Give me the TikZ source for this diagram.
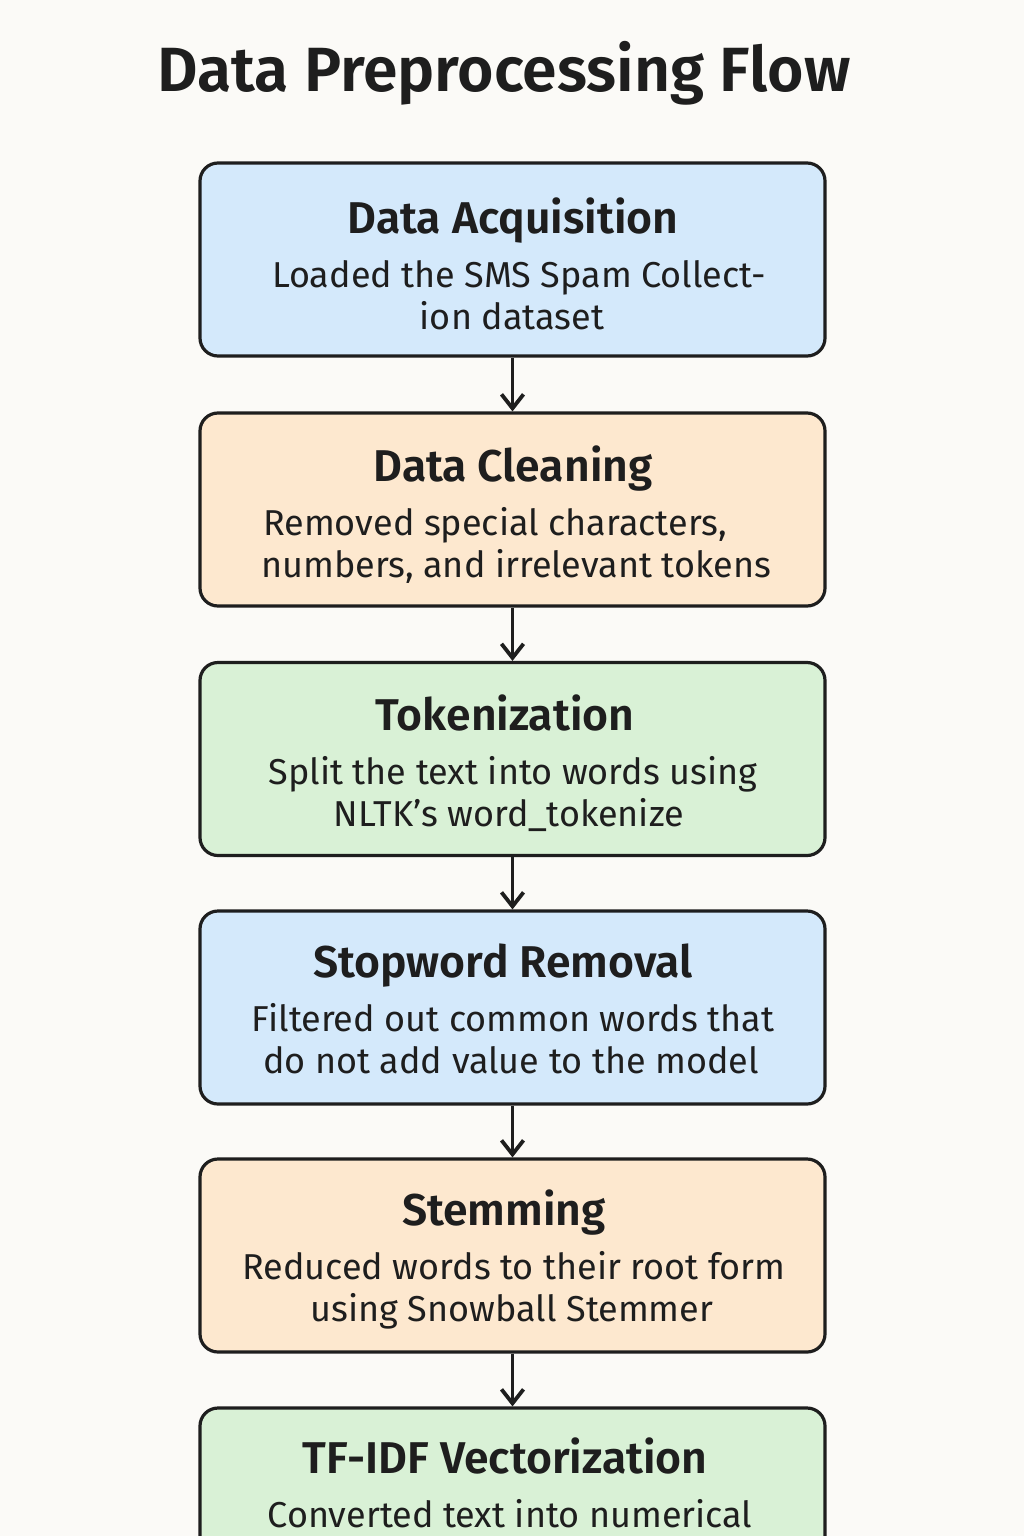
\documentclass[tikz,border=0pt]{standalone}
\usepackage{fontspec}
\setmainfont{Fira Sans}[BoldFont={Fira Sans SemiBold}]
\usetikzlibrary{arrows.meta}
\definecolor{bgc}{HTML}{FBFAF7}
\definecolor{ink}{HTML}{1E1E1E}
\definecolor{bluef}{HTML}{D4E9FB}
\definecolor{orangef}{HTML}{FDE8CF}
\definecolor{greenf}{HTML}{D9F1D6}
\tikzset{
  stepbox/.style={draw=ink, line width=3.2pt, rounded corners=18pt, minimum width=625pt, minimum height=193pt, inner sep=0pt},
  headtxt/.style={anchor=base, text=ink, font=\fontsize{44.5}{48}\selectfont\bfseries, inner sep=0pt},
  bodytxt/.style={anchor=base, text=ink, font=\fontsize{36}{40}\selectfont, inner sep=0pt},
  flow/.style={draw=ink, line width=3.8pt, -{Straight Barb[length=14pt,width=22pt,line width=3.8pt]}},
}
\begin{document}
\begin{tikzpicture}[x=1pt,y=-1pt]
\clip (0,0) rectangle (1024,1536);
\useasboundingbox (0,0) rectangle (1024,1536);
\fill[bgc] (0,0) rectangle (1024,1536);
\node[anchor=base, text=ink, font=\fontsize{62.5}{64}\selectfont\bfseries, inner sep=0pt] (title) at (504,92) {Data Preprocessing Flow};
% boxes
\node[stepbox, fill=bluef] (b1) at (512.5,259.5) {};
\node[stepbox, fill=orangef] (b2) at (512.5,509.5) {};
\node[stepbox, fill=greenf] (b3) at (512.5,759) {};
\node[stepbox, fill=bluef] (b4) at (512.5,1007.5) {};
\node[stepbox, fill=orangef] (b5) at (512.5,1255.5) {};
\node[stepbox, fill=greenf] (b6) at (512.5,1504.5) {};
% texts
\node[headtxt] (h1) at (513,233) {Data Acquisition};
\node[bodytxt] (t1a) at (519,287) {Loaded the SMS Spam Collect-};
\node[bodytxt] (t1b) at (512,329) {ion dataset};
\node[headtxt] (h2) at (513,481) {Data Cleaning};
\node[bodytxt] (t2a) at (495,535) {Removed special characters,};
\node[bodytxt] (t2b) at (516,577) {numbers, and irrelevant tokens};
\node[headtxt] (h3) at (505,730) {Tokenization};
\node[bodytxt] (t3a) at (513,784) {Split the text into words using};
\node[bodytxt] (t3b) at (509,826) {NLTK's word\_tokenize};
\node[headtxt] (h4) at (503,977) {Stopword Removal};
\node[bodytxt] (t4a) at (513,1031) {Filtered out common words that};
\node[bodytxt] (t4b) at (511,1073) {do not add value to the model};
\node[headtxt] (h5) at (504,1225) {Stemming};
\node[bodytxt] (t5a) at (514,1279) {Reduced words to their root form};
\node[bodytxt] (t5b) at (512,1321) {using Snowball Stemmer};
\node[headtxt] (h6) at (505,1473) {TF-IDF Vectorization};
\node[bodytxt] (t6a) at (510,1527) {Converted text into numerical};
% arrows
\draw[flow] (b1.south) -- (b2.north);
\draw[flow] (b2.south) -- (b3.north);
\draw[flow] (b3.south) -- (b4.north);
\draw[flow] (b4.south) -- (b5.north);
\draw[flow] (b5.south) -- (b6.north);
\end{tikzpicture}
\end{document}
